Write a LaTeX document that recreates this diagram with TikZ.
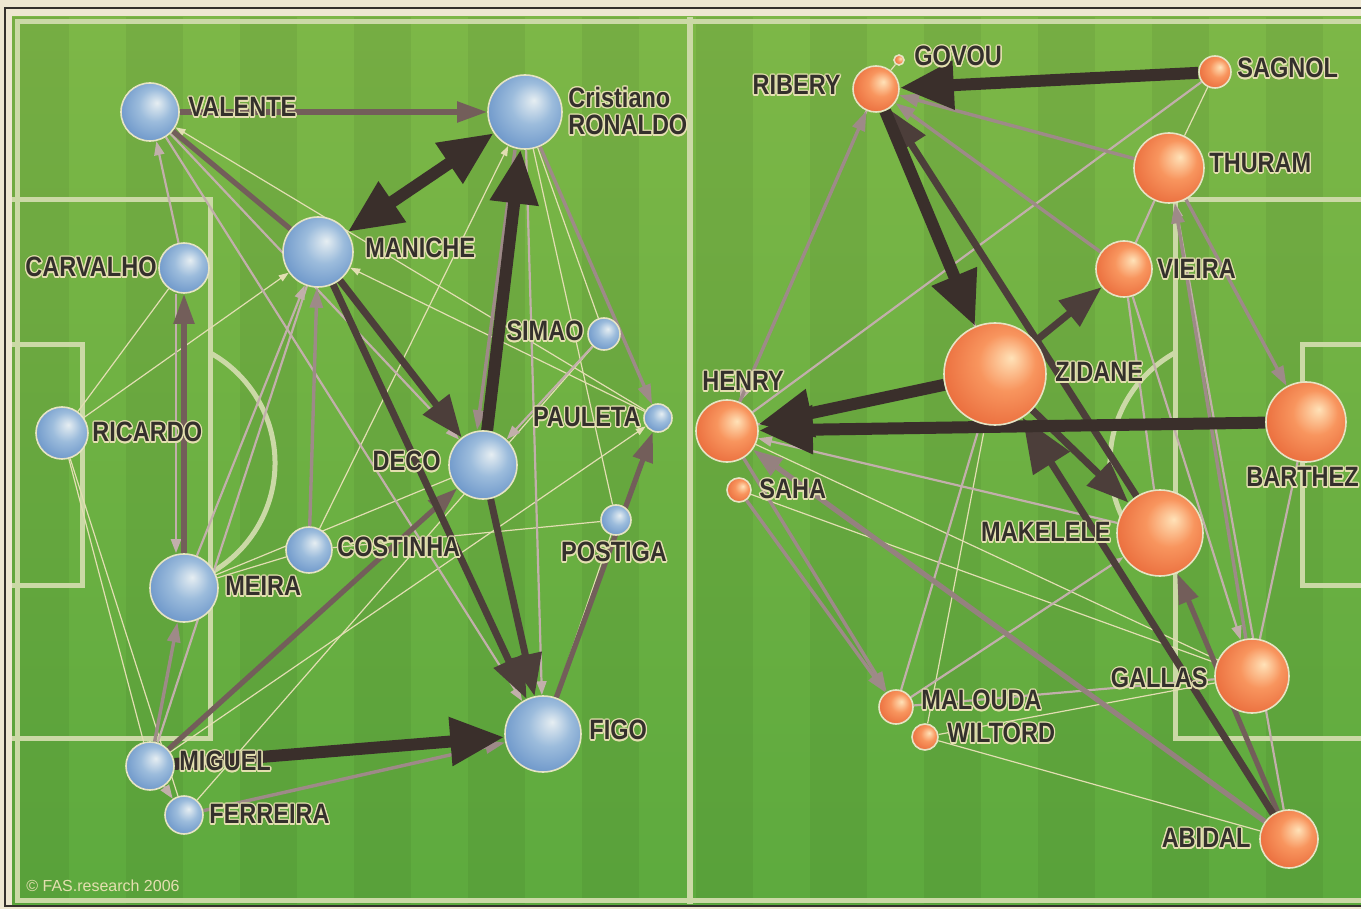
\documentclass[tikz,border=0pt]{standalone}
\usepackage{fontspec}
\setmainfont{Liberation Sans}
\newfontfamily\labfam{Liberation Sans}[FakeStretch=0.84]
\usepackage{contour}
\contourlength{0.65pt}
\contournumber{12}
\usetikzlibrary{arrows.meta}
\definecolor{paper}{HTML}{EEE7D1}
\definecolor{fieldtop}{HTML}{7DB747}
\definecolor{fieldmid}{HTML}{52A43A}
\definecolor{fieldbot}{HTML}{5DAA3E}
\definecolor{pline}{HTML}{CBD9A6}
\definecolor{cdark}{HTML}{3A2F2B}
\definecolor{cmdk}{HTML}{4C3E3A}
\definecolor{cbrn}{HTML}{735E5A}
\definecolor{cpnk}{HTML}{9E8A88}
\definecolor{clpk}{HTML}{C2AFAB}
\definecolor{ccrm}{HTML}{E2DEB2}
\definecolor{labtxt}{HTML}{34302C}
\definecolor{glow}{HTML}{E4DFB0}
\definecolor{ballrim}{HTML}{E6E4C4}
\definecolor{bhi}{HTML}{E6EEF2}
\definecolor{bmid}{HTML}{9CBCDC}
\definecolor{bedge}{HTML}{4F7FBE}
\definecolor{ohi}{HTML}{FFE2B8}
\definecolor{omid}{HTML}{F8955E}
\definecolor{oedge}{HTML}{E2562A}
\pgfdeclareradialshading{bsph}{\pgfpoint{6bp}{8bp}}{color(0bp)=(bhi); color(14bp)=(bmid); color(40bp)=(bedge); color(50bp)=(bedge)}
\pgfdeclareradialshading{osph}{\pgfpoint{8bp}{8bp}}{color(0bp)=(ohi); color(14bp)=(omid); color(40bp)=(oedge); color(50bp)=(oedge)}
\pgfdeclarelayer{bg}
\pgfdeclarelayer{edges}
\pgfdeclarelayer{fg}
\pgfsetlayers{bg,edges,main,fg}
\tikzset{
  ball/.style={circle, inner sep=0pt, minimum size=#1pt, draw=ballrim, line width=0.8pt},
  bb/.style={ball=#1, shade, shading=bsph},
  ob/.style={ball=#1, shade, shading=osph},
  lab/.style={font=\labfam\bfseries\fontsize{14}{12}\selectfont, text=labtxt, inner sep=0pt},
  pitch/.style={draw=pline, line width=2.5pt},
  thk/.style={draw=cdark, line width=6pt, -{Triangle[length=27pt,width=23pt]}},
  mdk/.style={draw=cmdk, line width=3.5pt, -{Triangle[length=21pt,width=16pt]}},
  brn/.style={draw=cbrn, line width=2.6pt, -{Triangle[length=15pt,width=10pt]}},
  pnk/.style={draw=cpnk, line width=1.7pt, -{Triangle[length=10pt,width=6.5pt]}},
  lpk/.style={draw=clpk, line width=1.1pt, -{Triangle[length=7pt,width=5pt]}},
  crm/.style={draw=ccrm, line width=0.6pt, -{Triangle[length=5pt,width=3.5pt]}},
}
\begin{document}
\begin{tikzpicture}[x=0.5pt,y=-0.5pt]
\useasboundingbox (0,0) rectangle (1361,909);
% ---------- background ----------
\begin{pgfonlayer}{bg}
\fill[paper] (0,0) rectangle (1361,909);
\draw[labtxt, line width=0.6pt] (5,8) rectangle (1380,906);
\shade[top color=fieldtop, middle color=fieldmid, bottom color=fieldbot] (12,17) rectangle (1361,904);
\foreach \x in {12,126,...,1361} \fill[black, opacity=0.05] (\x,17) rectangle ++(57,887);
\draw[pitch] (17,22) rectangle (1380,900);
\draw[pitch, line width=3pt] (690,17) -- (690,904);
\draw[pitch] (12,200) -- (210,200) -- (210,738) -- (12,738);
\draw[pitch] (12,345) -- (82,345) -- (82,585) -- (12,585);
\draw[pitch] (149,463) ++(-61:126) arc[start angle=-61, end angle=61, radius=126];
\draw[pitch] (1361,200) -- (1175,200) -- (1175,738) -- (1361,738);
\draw[pitch] (1361,345) -- (1302,345) -- (1302,585) -- (1361,585);
\draw[pitch] (1236,463) ++(119:126) arc[start angle=119, end angle=241, radius=126];
\end{pgfonlayer}
% ---------- Portugal ----------
\node[bb=29] (valente) at (150,112) {};
\node[bb=37] (ronaldo) at (525,112) {};
\node[bb=35] (maniche) at (318,252) {};
\node[bb=25] (carvalho) at (184,268) {};
\node[bb=16] (simao) at (604,334) {};
\node[bb=14] (pauleta) at (658,418) {};
\node[bb=26] (ricardo) at (62,433) {};
\node[bb=34] (deco) at (483,465) {};
\node[bb=15] (postiga) at (616,520) {};
\node[bb=23] (costinha) at (309,550) {};
\node[bb=34] (meira) at (184,588) {};
\node[bb=38] (figo) at (543,734) {};
\node[bb=24] (miguel) at (150,766) {};
\node[bb=19] (ferreira) at (184,815) {};
% ---------- France ----------
\node[ob=5] (govou) at (899,60) {};
\node[ob=23] (ribery) at (876,89) {};
\node[ob=16] (sagnol) at (1215,72) {};
\node[ob=35] (thuram) at (1169,168) {};
\node[ob=28] (vieira) at (1124,269) {};
\node[ob=51] (zidane) at (995,374) {};
\node[ob=31] (henry) at (727,431) {};
\node[ob=12] (saha) at (739,490) {};
\node[ob=40] (barthez) at (1306,422) {};
\node[ob=43] (makelele) at (1160,533) {};
\node[ob=37] (gallas) at (1252,676) {};
\node[ob=17] (malouda) at (896,707) {};
\node[ob=13] (wiltord) at (925,737) {};
\node[ob=29] (abidal) at (1289,839) {};
% ---------- edges ----------
\begin{pgfonlayer}{edges}
% Portugal
\draw[crm] (pauleta) -- (valente);
\draw[crm] (pauleta) -- (maniche);
\draw[crm] (costinha) -- (ronaldo);
\draw[crm] (ricardo) -- (maniche);
\draw[crm,-] (ricardo) -- (miguel);
\draw[crm,-] (ricardo) -- (ferreira);
\draw[crm,-] (costinha) -- (postiga);
\draw[crm,-] (postiga) -- (figo);
\draw[crm,-] (ferreira) -- (simao);
\draw[crm] (miguel) -- (pauleta);
\draw[crm,-] (ronaldo) -- (postiga);
\draw[crm,-] (ronaldo) -- (simao);
\draw[crm,-] (meira) -- (costinha);
\draw[crm,-] (meira) -- (deco);
\draw[crm,-] (ricardo) -- (carvalho);
\draw[lpk] (carvalho) -- (valente);
\draw[lpk] (meira) -- (maniche);
\draw[lpk] ([xshift=-4pt]carvalho.south) -- ([xshift=-4pt]meira.north);
\draw[lpk] (ronaldo) -- (figo);
\draw[lpk] (valente) -- (deco);
\draw[lpk] (valente) -- (figo);
\draw[lpk] (miguel) -- (ferreira);
\draw[lpk] (simao) -- (deco);
\draw[lpk,-] (miguel) -- (maniche);
\draw[pnk] (miguel) -- (meira);
\draw[pnk] ([xshift=-5pt]ronaldo.south) -- ([xshift=-3pt]deco.north);
\draw[pnk] (ronaldo) -- (pauleta);
\draw[pnk] (costinha) -- (maniche);
\draw[pnk] (ferreira) -- (figo);
\draw[brn,-] (valente) -- (maniche);
\draw[brn] (valente) -- (ronaldo);
\draw[brn] (meira) -- (carvalho);
\draw[brn] (miguel) -- (deco);
\draw[brn] (figo) -- (pauleta);
\draw[mdk] (maniche) -- (deco);
\draw[mdk] (maniche) -- (figo);
\draw[mdk] (deco) -- (figo);
\draw[thk] (deco) -- (ronaldo);
\draw[thk] (miguel) -- (figo);
\draw[thk, {Triangle[length=27pt,width=23pt]}-{Triangle[length=27pt,width=23pt]}] (maniche) -- (ronaldo);
% France
\draw[crm,-] (ribery) -- (govou);
\draw[crm,-] (sagnol) -- (thuram);
\draw[crm,-] (saha) -- (gallas);
\draw[crm,-] (wiltord) -- (abidal);
\draw[crm,-] (wiltord) -- (zidane);
\draw[crm,-] (gallas) -- (henry);
\draw[crm,-] (wiltord) -- (gallas);
\draw[lpk] (ribery) -- (henry);
\draw[lpk,-] (sagnol) -- (henry);
\draw[lpk,-] (thuram) -- (vieira);
\draw[lpk] (abidal) -- (thuram);
\draw[lpk] (vieira) -- (gallas);
\draw[lpk] (malouda) -- (makelele);
\draw[lpk,-] (malouda) -- (gallas);
\draw[lpk,-] (malouda) -- (zidane);
\draw[lpk] (makelele) -- (henry);
\draw[lpk] (henry) -- (zidane);
\draw[lpk,-] (barthez) -- (gallas);
\draw[lpk,-] (vieira) -- (makelele);
\draw[lpk,-] (zidane) -- (ribery);
\draw[pnk] (thuram) -- (ribery);
\draw[pnk] (vieira) -- (ribery);
\draw[pnk] (henry) -- (ribery);
\draw[pnk] (thuram) -- (barthez);
\draw[pnk] (gallas) -- (thuram);
\draw[pnk] (henry) -- (malouda);
\draw[pnk] (saha) -- (malouda);
\draw[brn, draw=cpnk!80!cbrn] (abidal) -- (henry);
\draw[brn] (abidal) -- (makelele);
\draw[mdk] (makelele) -- (ribery);
\draw[mdk] (zidane) -- (vieira);
\draw[mdk] (zidane) -- (makelele);
\draw[mdk, -{Triangle[length=27pt,width=21pt]}] (abidal) -- (zidane);
\draw[thk] (sagnol) -- (ribery);
\draw[thk] (ribery) -- (zidane);
\draw[thk] (zidane) -- (henry);
\draw[thk] (barthez) -- (henry);
\end{pgfonlayer}
% ---------- labels ----------
\begin{pgfonlayer}{fg}
\node[lab, anchor=west] (lvalente) at (188,108) {\contour{glow}{VALENTE}};
\node[lab, anchor=west] (lcristiano) at (568,98) {\contour{glow}{Cristiano}};
\node[lab, anchor=west] (lronaldo) at (568,126) {\contour{glow}{RONALDO}};
\node[lab, anchor=west] (lmaniche) at (365,249) {\contour{glow}{MANICHE}};
\node[lab, anchor=east] (lcarvalho) at (157,268) {\contour{glow}{CARVALHO}};
\node[lab, anchor=east] (lsimao) at (584,332) {\contour{glow}{SIMAO}};
\node[lab, anchor=east] (lpauleta) at (641,418) {\contour{glow}{PAULETA}};
\node[lab, anchor=west] (lricardo) at (92,433) {\contour{glow}{RICARDO}};
\node[lab, anchor=east] (ldeco) at (441,462) {\contour{glow}{DECO}};
\node[lab] (lpostiga) at (614,553) {\contour{glow}{POSTIGA}};
\node[lab, anchor=west] (lcostinha) at (337,548) {\contour{glow}{COSTINHA}};
\node[lab, anchor=west] (lmeira) at (225,587) {\contour{glow}{MEIRA}};
\node[lab, anchor=west] (lfigo) at (589,731) {\contour{glow}{FIGO}};
\node[lab, anchor=west] (lmiguel) at (179,762) {\contour{glow}{MIGUEL}};
\node[lab, anchor=west] (lferreira) at (209,815) {\contour{glow}{FERREIRA}};
\node[lab, anchor=west] (lgovou) at (914,57) {\contour{glow}{GOVOU}};
\node[lab, anchor=east] (lribery) at (841,86) {\contour{glow}{RIBERY}};
\node[lab, anchor=west] (lsagnol) at (1237,69) {\contour{glow}{SAGNOL}};
\node[lab, anchor=west] (lthuram) at (1209,164) {\contour{glow}{THURAM}};
\node[lab, anchor=west] (lvieira) at (1157,270) {\contour{glow}{VIEIRA}};
\node[lab, anchor=west] (lzidane) at (1055,373) {\contour{glow}{ZIDANE}};
\node[lab, anchor=west] (lhenry) at (702,382) {\contour{glow}{HENRY}};
\node[lab, anchor=west] (lsaha) at (759,490) {\contour{glow}{SAHA}};
\node[lab, anchor=west] (lbarthez) at (1246,478) {\contour{glow}{BARTHEZ}};
\node[lab, anchor=east] (lmakelele) at (1111,533) {\contour{glow}{MAKELELE}};
\node[lab, anchor=east] (lgallas) at (1208,679) {\contour{glow}{GALLAS}};
\node[lab, anchor=west] (lmalouda) at (921,701) {\contour{glow}{MALOUDA}};
\node[lab, anchor=west] (lwiltord) at (947,734) {\contour{glow}{WILTORD}};
\node[lab, anchor=east] (labidal) at (1251,839) {\contour{glow}{ABIDAL}};
\node[font=\fontsize{8}{9}\selectfont, text=glow, anchor=west, inner sep=0pt] (copyr) at (26,886) {\textcopyright{} FAS.research 2006};
\end{pgfonlayer}
\end{tikzpicture}
\end{document}
